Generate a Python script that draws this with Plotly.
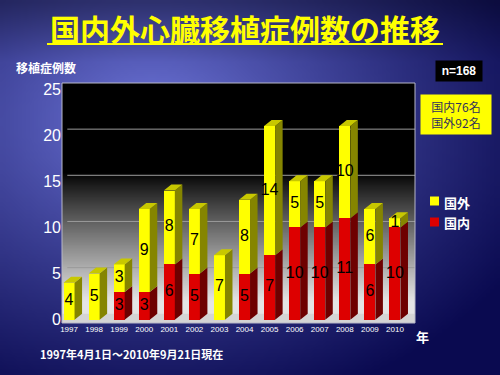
import base64, struct, zlib
import numpy as np
import plotly.graph_objects as go

years = [1997, 1998, 1999, 2000, 2001, 2002, 2003, 2004, 2005, 2006, 2007, 2008, 2009, 2010]
domestic = [0, 0, 3, 3, 6, 5, 0, 5, 7, 10, 10, 11, 6, 10]   # 国内
overseas = [4, 5, 3, 9, 8, 7, 7, 8, 14, 5, 5, 10, 6, 1]     # 国外
y_ticks = [0, 5, 10, 15, 20, 25]

# geometry
W, H = 500, 375
ML, MR, MT, MB = 62, 85, 83, 52
PW, PH = W - ML - MR, H - MT - MB
XR = [1996.72, 2010.80]
YR = [-0.35, 25.65]
HW = 0.22      # half width of the front face
DX, DY = 0.3, 0.65  # 3D depth offset

RED, RED_SIDE, RED_TOP = "#dd0000", "#6e0000", "#a00000"
YEL, YEL_SIDE, YEL_TOP = "#ffff00", "#858500", "#c8c800"


def png_uri(arr):
    h, w, _ = arr.shape
    raw = b"".join(b"\x00" + arr[i].tobytes() for i in range(h))

    def chunk(t, d):
        return struct.pack(">I", len(d)) + t + d + struct.pack(">I", zlib.crc32(t + d) & 0xFFFFFFFF)

    png = (b"\x89PNG\r\n\x1a\n" + chunk(b"IHDR", struct.pack(">IIBBBBB", w, h, 8, 2, 0, 0, 0))
           + chunk(b"IDAT", zlib.compress(raw, 9)) + chunk(b"IEND", b""))
    return "data:image/png;base64," + base64.b64encode(png).decode()


# slide background (blue radial gradient)
bh, bw = 94, 125
yy, xx = np.mgrid[0:bh, 0:bw]
px, py = xx * 4.0, yy * 4.0
d = np.sqrt(((px - 150) / 420) ** 2 + ((py - 120) / 300) ** 2)
t = np.clip(d, 0, 1) ** 0.8
bright = np.array([118, 126, 228], float)
dark = np.array([10, 10, 80], float)
bg = bright[None, None, :] * (1 - t[..., None]) + dark[None, None, :] * t[..., None]
top_dim = 0.7 + 0.3 * np.clip(py / 60, 0, 1)[..., None]
bg = bg * top_dim
bg = np.clip(bg, 0, 255).astype(np.uint8)
bg_uri = png_uri(bg)

# plot-area background (black to light gray vertical gradient)
rows = 130
vals = np.linspace(YR[1], YR[0], rows)
g = np.clip((16 - vals) / 14.0, 0, 1) ** 0.9 * 228
pa = np.repeat(np.repeat(g[:, None, None], 3, axis=2), 4, axis=1).astype(np.uint8)
pa_uri = png_uri(pa)

fig = go.Figure()

# front faces
fig.add_trace(go.Bar(x=years, y=domestic, base=0, width=2 * HW, marker=dict(color=RED, line=dict(width=0)),
                     name="国内", hoverinfo="skip", showlegend=False))
fig.add_trace(go.Bar(x=years, y=overseas, base=domestic, width=2 * HW, marker=dict(color=YEL, line=dict(width=0)),
                     name="国外", hoverinfo="skip", showlegend=False))


def side_and_top(bases, heights, top_flags):
    sx, sy, tx, ty = [], [], [], []
    for x, b, h, tp in zip(years, bases, heights, top_flags):
        if h <= 0:
            continue
        tt = b + h
        sx += [x + HW, x + HW + DX, x + HW + DX, x + HW, x + HW, None]
        sy += [b, b + DY, tt + DY, tt, b, None]
        if tp:
            tx += [x - HW, x - HW + DX, x + HW + DX, x + HW, x - HW, None]
            ty += [tt, tt + DY, tt + DY, tt, tt, None]
    return sx, sy, tx, ty


rsx, rsy, rtx, rty = side_and_top([0] * len(years), domestic, [o == 0 for o in overseas])
ysx, ysy, ytx, yty = side_and_top(domestic, overseas, [True] * len(years))
for xs, ys, c in [(rsx, rsy, RED_SIDE), (rtx, rty, RED_TOP), (ysx, ysy, YEL_SIDE), (ytx, yty, YEL_TOP)]:
    if xs:
        fig.add_trace(go.Scatter(x=xs, y=ys, mode="lines", fill="toself", fillcolor=c,
                                 line=dict(width=0, color=c), showlegend=False, hoverinfo="skip"))

# value labels
lx, ly, lt = [], [], []
for x, dm, ov in zip(years, domestic, overseas):
    if dm > 0:
        lx.append(x); ly.append(dm / 2); lt.append(str(dm))
    if ov > 0:
        lx.append(x); ly.append(dm + ov / 2); lt.append(str(ov))
fig.add_trace(go.Scatter(x=lx, y=ly, text=lt, mode="text", showlegend=False, hoverinfo="skip",
                         textfont=dict(family="Liberation Sans", size=16, color="black")))


def px2x(p):
    return (p - ML) / PW


def py2y(p):
    return (H - MB - p) / PH


shapes = []
# floor
shapes.append(dict(type="rect", xref="paper", yref="y", x0=0, x1=1, y0=YR[0], y1=DY,
                   fillcolor="#d4d4d4", line=dict(width=0), layer="below"))
# back-wall grid lines
for v in y_ticks[1:-1]:
    shapes.append(dict(type="line", xref="paper", yref="y", x0=0.015, x1=1, y0=v + DY, y1=v + DY,
                       line=dict(color="#9a9a9a", width=1), layer="below"))
shapes.append(dict(type="rect", xref="paper", yref="paper", x0=0, x1=1, y0=0, y1=1,
                   line=dict(color="#b8b8c8", width=1), layer="below"))
# title underline
shapes.append(dict(type="line", xref="paper", yref="paper",
                   x0=px2x(47), x1=px2x(443), y0=py2y(44), y1=py2y(44),
                   line=dict(color="#ffff00", width=2)))
# legend squares
for c, yc in [(YEL, 201), (RED, 222)]:
    shapes.append(dict(type="rect", xref="paper", yref="paper", x0=px2x(430), x1=px2x(439),
                       y0=py2y(yc + 4.5), y1=py2y(yc - 4.5), fillcolor=c, line=dict(width=0)))

ann = []
cjk = "Noto Sans CJK JP"
ann.append(dict(text="<b>国内外心臓移植症例数の推移</b>", x=px2x(245), y=py2y(28), xref="paper", yref="paper",
                showarrow=False, font=dict(family=cjk, size=30, color="#ffff00"), xanchor="center", yanchor="middle"))
ann.append(dict(text="<b>移植症例数</b>", x=px2x(14), y=py2y(67), xref="paper", yref="paper", showarrow=False,
                font=dict(family=cjk, size=12, color="white"), xanchor="left", yanchor="middle"))
ann.append(dict(text="<b>n=168</b>", x=px2x(435), y=py2y(71), xref="paper", yref="paper", showarrow=False,
                font=dict(family="Liberation Sans", size=12, color="white"), bgcolor="black",
                borderpad=3, width=40, xanchor="left", yanchor="middle"))
ann.append(dict(text="国内76名<br>国外92名", x=px2x(420), y=py2y(114), xref="paper", yref="paper", showarrow=False,
                font=dict(family=cjk, size=12, color="#33335a"), bgcolor="#ffff00",
                borderpad=3, width=64, xanchor="left", yanchor="middle"))
for txt, yc in [("国外", 202), ("国内", 223)]:
    ann.append(dict(text="<b>" + txt + "</b>", x=px2x(442), y=py2y(yc), xref="paper", yref="paper",
                    showarrow=False, font=dict(family=cjk, size=13, color="white"),
                    xanchor="left", yanchor="middle"))
ann.append(dict(text="<b>年</b>", x=px2x(422), y=py2y(336), xref="paper", yref="paper", showarrow=False,
                font=dict(family=cjk, size=13, color="white"), xanchor="center", yanchor="middle"))
ann.append(dict(text="<b>1997年4月1日～2010年9月21日現在</b>", x=px2x(38), y=py2y(354), xref="paper", yref="paper",
                showarrow=False, font=dict(family=cjk, size=11, color="white"), xanchor="left", yanchor="middle"))

images = [
    dict(source=bg_uri, xref="paper", yref="paper", x=-ML / PW, y=1 + MT / PH, sizex=W / PW, sizey=H / PH,
         sizing="stretch", layer="below", xanchor="left", yanchor="top"),
    dict(source=pa_uri, xref="paper", yref="paper", x=0, y=1, sizex=1, sizey=1,
         sizing="stretch", layer="below", xanchor="left", yanchor="top"),
]

fig.update_layout(
    width=W, height=H, margin=dict(l=ML, r=MR, t=MT, b=MB),
    paper_bgcolor="#10106a", plot_bgcolor="rgba(0,0,0,0)",
    barmode="overlay", bargap=0, showlegend=False,
    shapes=shapes, annotations=ann, images=images,
    xaxis=dict(range=XR, tickmode="array", tickvals=years, ticktext=[str(y) for y in years],
               tickfont=dict(family="Liberation Sans", size=8, color="white"), showgrid=False,
               zeroline=False, showline=False, ticks="", fixedrange=True),
    yaxis=dict(range=YR, tickmode="array", tickvals=y_ticks, showgrid=False, zeroline=False,
               tickfont=dict(family="Liberation Sans", size=16, color="white"), ticks="", fixedrange=True),
    hovermode=False,
)

fig.write_html("out.html", config={"displayModeBar": False},
               post_script="document.body.style.margin='0';document.body.style.overflow='hidden';")
